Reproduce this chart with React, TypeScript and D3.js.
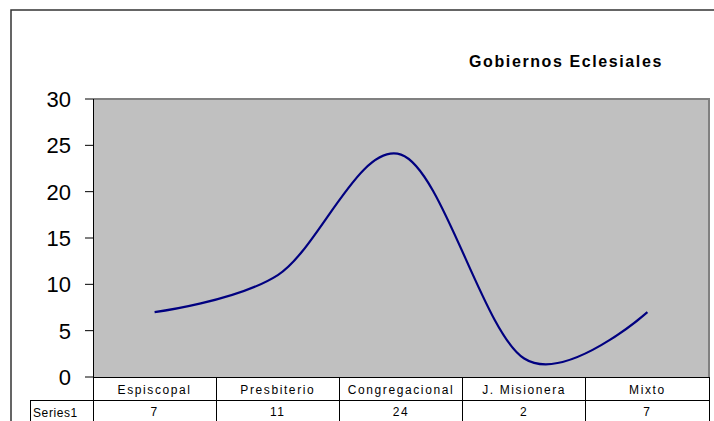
import React from 'react';
import * as d3 from 'd3';

const categories = ['Espiscopal', 'Presbiterio', 'Congregacional', 'J. Misionera', 'Mixto'];
const seriesName = 'Series1';
const values = [7, 11, 24, 2, 7];
const yTicks = [0, 5, 10, 15, 20, 25, 30];
const title = 'Gobiernos Eclesiales';

const W = 714;
const H = 421;
const plot = { left: 93, right: 709, top: 99, bottom: 377 };
const rowH = 23;
const font = 'Arial, "Liberation Sans", sans-serif';

const App = () => {
	const x = d3.scaleBand().domain(categories)
		.range([plot.left, plot.right]);
	const y = d3.scaleLinear().domain([0, 30])
		.range([plot.bottom, plot.top]);
	const line = d3.line<number>()
		.x((d, i) => x(categories[i]) + x.bandwidth() / 2)
		.y((d) => y(d))
		.curve(d3.curveCardinal.tension(0));
	const edges = categories.map((c) => x(c)).concat([plot.right]);
	const tableBottom = plot.bottom + rowH * 2;

	return (
		<svg width={ W } height={ H } style={{ position: 'absolute', left: 0, top: 0 }}
			fontFamily={ font }>
			<rect x={ 0 } y={ 0 } width={ W } height={ H } fill="#fff"/>
			<rect x={ 11 } y={ 10 } width={ W + 20 } height={ H + 20 } fill="none"
				stroke="#333" strokeWidth={ 1.5 }/>
			<text x={ 566 } y={ 67 } textAnchor="middle" fontWeight="bold" fontSize={ 16 }
				letterSpacing={ 1.6 }>{ title }</text>
			<rect x={ plot.left } y={ plot.top } width={ plot.right - plot.left }
				height={ plot.bottom - plot.top } fill="#c0c0c0"/>
			<path d={ `M${ plot.left },${ plot.top }H${ plot.right }V${ plot.bottom }` }
				fill="none" stroke="#808080" strokeWidth={ 2 }/>
			{ yTicks.map((t) => (
				<g key={ t }>
					<line x1={ 85 } x2={ plot.left } y1={ y(t) } y2={ y(t) } stroke="#000"/>
					<text x={ 71 } y={ y(t) + 8 } textAnchor="end" fontSize={ 22 }>{ t }</text>
				</g>
			)) }
			<path d={ line(values) } fill="none" stroke="#000080" strokeWidth={ 2.2 }/>
			<g stroke="#000" strokeWidth={ 1 } shapeRendering="crispEdges">
				<line x1={ plot.left } x2={ plot.left } y1={ plot.top } y2={ tableBottom }/>
				<line x1={ plot.left } x2={ plot.right } y1={ plot.bottom } y2={ plot.bottom }/>
				<line x1={ 30 } x2={ plot.right } y1={ plot.bottom + rowH } y2={ plot.bottom + rowH }/>
				<line x1={ 30 } x2={ plot.right } y1={ tableBottom } y2={ tableBottom }/>
				<line x1={ 30 } x2={ 30 } y1={ plot.bottom + rowH } y2={ tableBottom }/>
				{ edges.map((e, i) => (
					<line key={ i } x1={ e } x2={ e } y1={ plot.bottom } y2={ tableBottom }/>
				)) }
			</g>
			{ categories.map((c, i) => (
				<g key={ c } fontSize={ 12 } letterSpacing={ 1.6 } textAnchor="middle">
					<text x={ x(c) + x.bandwidth() / 2 } y={ plot.bottom + 17 }>{ c }</text>
					<text x={ x(c) + x.bandwidth() / 2 } y={ plot.bottom + rowH + 16 }>{ values[i] }</text>
				</g>
			)) }
			<text x={ 33 } y={ plot.bottom + rowH + 17 } fontSize={ 12 } letterSpacing={ 0.6 }>
				{ seriesName }
			</text>
		</svg>
	);
};

export default App;
